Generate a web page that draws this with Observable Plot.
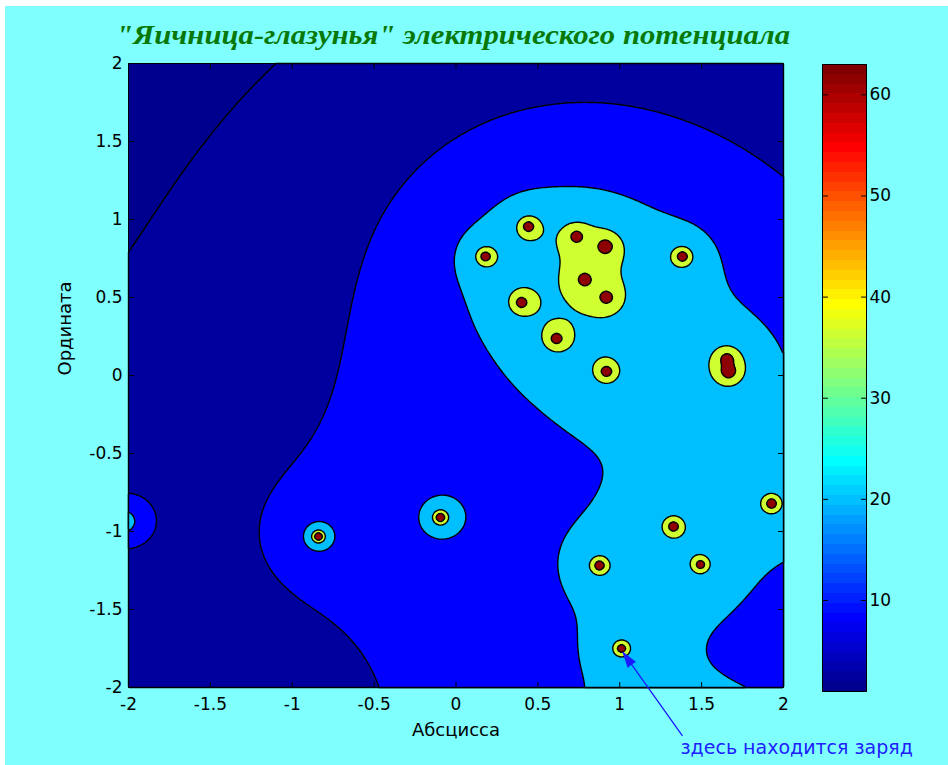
<!DOCTYPE html>
<html><head><meta charset="utf-8">
<script src="https://cdn.jsdelivr.net/npm/d3@7"></script>
<script src="https://cdn.jsdelivr.net/npm/@observablehq/plot@0.6"></script>
<style>
body{margin:0;background:#fff;}
#fig{position:relative;width:948px;height:765px;background:#fff;overflow:hidden;}
#bg{position:absolute;left:5px;top:6px;width:943px;height:759px;background:#80ffff;}
#title{position:absolute;left:116px;top:21px;white-space:nowrap;font-family:"Liberation Serif",serif;font-style:italic;font-weight:bold;font-size:28px;line-height:1;color:#087808;transform-origin:0 0;}
.layer{position:absolute;left:0;top:0;}
</style></head><body>
<div id="fig"><div id="bg"></div><span id="title"></span></div>
<script>
// Point charges: positions (the last ones lie outside the visible window)
const chargeX = [0.443, 0.180, 0.736, 0.913, 0.785, 0.919, 0.400, 0.614, 0.919, 1.383, 1.655, 1.665, 1.927, 1.328, 0.876, 1.493, 1.011, -0.840, -0.095, -2.03,
                 -1.5, -1, -0.5, 0, 0.5, 1, 1.5, 2, 2.5, 2.5, 2.5, 2.5, 2.5, 2.5, -2.5, -2.5, -0.5, 1];
const chargeY = [0.955, 0.763, 0.891, 0.827, 0.615, 0.500, 0.468, 0.237, 0.026, 0.763, 0.105, 0.025, -0.821, -0.968, -1.218, -1.212, -1.750, -1.032, -0.910, -0.935,
                 -2.5, -2.5, -2.5, -2.5, -2.5, -2.5, -2.5, -2.5, -2.5, -2, -1.5, -1, -0.5, 0, -0.5, 0, 2.5, 2.5];
const chargeQ = [1.001, 0.990, 0.937, 1.191, 0.915, 0.971, 0.980, 0.970, 1.016, 1.063, 0.951, 1.194, 1.062, 0.990, 1.026, 0.839, 0.876, 1.030, 1.047, 1.0,
                 0.018, 0.032, 0.063, 0.408, 1.642, 1.401, 2.624, 2.336, 0.454, 0.175, 0.143, 1.408, 0.55, 0.832, 0.181, 0.175, 0.042, 0.069];
// potential levels of the contour lines
const potentialLevels = [9.905, 15.843, 25.193, 39.144, 59.401];
// jet colormap indices of the six bands (lowest first)
const bandColorIndex = [1, 2, 8, 20, 37, 63];
const xTicks = [-2, -1.5, -1, -0.5, 0, 0.5, 1, 1.5, 2];
const yTicks = [-2, -1.5, -1, -0.5, 0, 0.5, 1, 1.5, 2];
const cbarTicks = [10, 20, 30, 40, 50, 60];
const cbarRange = [1, 63];
const cbarBands = d3.range(1, 65);
const titleText = "\"Яичница-глазунья\" электрического потенциала";
const xLabel = "Абсцисса";
const yLabel = "Ордината";
const noteText = "здесь находится заряд";
const noteFrom = [1.383, -2.31];
const noteTo = [1.02, -1.775];
const noteAt = [1.371, -2.39];

function jet(i) {
  const r = i <= 24 ? 0 : i <= 40 ? (i - 24) / 16 : i <= 55 ? 1 : (72 - i) / 16;
  const g = i <= 8 ? 0 : i <= 24 ? (i - 8) / 16 : i <= 39 ? 1 : i <= 55 ? (56 - i) / 16 : 0;
  const b = i <= 8 ? (i + 8) / 16 : i <= 23 ? 1 : i <= 39 ? (40 - i) / 16 : 0;
  return d3.rgb(r * 255, g * 255, b * 255).formatHex();
}

function potential(x, y) {
  let v = 0;
  for (let i = 0; i < chargeX.length; i++) {
    const r = Math.hypot(x - chargeX[i], y - chargeY[i]);
    v += chargeQ[i] / Math.max(r, 1e-6);
  }
  return v;
}

const tickShape = {draw(ctx, l) { ctx.moveTo(0, 0); ctx.lineTo(0, -l); }};
const tk = (data, o) => Plot.vector(data, {...o, length: 5, anchor: "start", shape: tickShape, stroke: "black", strokeWidth: 1});
const fmt = d => String(d);
const W = 948, H = 765;
const baseStyle = {background: "transparent", overflow: "visible", fontFamily: "DejaVu Sans", fontSize: "17px", color: "black"};

const main = Plot.plot({
  width: W, height: H,
  marginLeft: 128, marginRight: 165, marginTop: 63, marginBottom: 78,
  style: baseStyle,
  x: {domain: [-2, 2]},
  y: {domain: [-2, 2]},
  color: {type: "ordinal", domain: potentialLevels, range: bandColorIndex.slice(1).map(jet)},
  marks: [
    Plot.frame({fill: jet(bandColorIndex[0])}),
    Plot.contour({x1: -2, y1: -2, x2: 2, y2: 2, fill: potential, thresholds: potentialLevels, stroke: "black", strokeWidth: 1.4}),
    Plot.frame({stroke: "black", strokeWidth: 1}),
    Plot.axisX(xTicks, {anchor: "bottom", tickSize: 0, tickPadding: 10, tickFormat: fmt, label: null, fontSize: 17}),
    Plot.axisY(yTicks, {anchor: "left", tickSize: 0, tickPadding: 6, tickFormat: fmt, label: null, fontSize: 17}),
    tk(xTicks, {x: d => d, y: -2, rotate: 0}),
    tk(xTicks, {x: d => d, y: 2, rotate: 180}),
    tk(yTicks, {y: d => d, x: -2, rotate: 90}),
    tk(yTicks, {y: d => d, x: 2, rotate: -90}),
    Plot.text([xLabel], {frameAnchor: "bottom", text: d => d, dy: 48, fontSize: 18}),
    Plot.text([yLabel], {frameAnchor: "left", text: d => d, dx: -63, rotate: -90, fontSize: 18}),
    Plot.link([0], {x1: noteFrom[0], y1: noteFrom[1], x2: noteTo[0], y2: noteTo[1], stroke: "#1a1aff", strokeWidth: 1.3}),
    Plot.vector([0], {x: noteTo[0], y: noteTo[1], rotate: -35.4, length: 15, r: 4.5, shape: "spike", anchor: "end", fill: "#1a1aff", stroke: "#1a1aff", strokeWidth: 1}),
    Plot.text([noteText], {x: noteAt[0], y: noteAt[1], text: d => d, textAnchor: "start", fill: "#2020ff", fontSize: 19})
  ]
});
main.classList.add("layer");

const cbar = Plot.plot({
  width: W, height: H,
  marginLeft: 822, marginRight: 82, marginTop: 64, marginBottom: 74,
  style: baseStyle,
  x: {domain: [0, 1], axis: null},
  y: {domain: cbarRange},
  color: {type: "identity"},
  marks: [
    Plot.rect(cbarBands, {
      x1: 0, x2: 1,
      y1: i => cbarRange[0] + (i - 1) * (cbarRange[1] - cbarRange[0]) / 64,
      y2: i => cbarRange[0] + i * (cbarRange[1] - cbarRange[0]) / 64,
      fill: i => jet(i), shapeRendering: "crispEdges"
    }),
    Plot.frame({stroke: "black"}),
    Plot.axisY(cbarTicks, {anchor: "right", tickSize: 0, tickPadding: 3, label: null, fontSize: 17}),
    tk(cbarTicks, {y: d => d, x: 0, rotate: 90}),
    tk(cbarTicks, {y: d => d, x: 1, rotate: -90})
  ]
});
cbar.classList.add("layer");

const fig = document.getElementById("fig");
fig.appendChild(main);
fig.appendChild(cbar);
const t = document.getElementById("title");
t.textContent = titleText;
const w = t.getBoundingClientRect().width;
t.style.transform = `scaleX(${674 / w})`;
</script>
</body></html>
